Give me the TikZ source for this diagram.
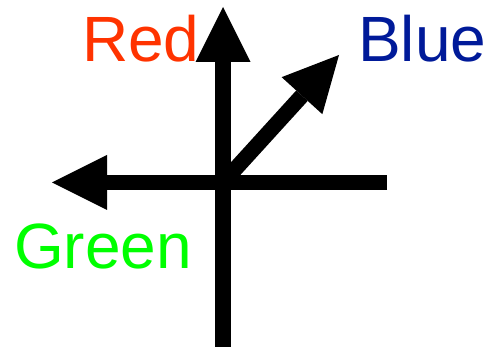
\documentclass[tikz,border=0pt]{standalone}
\usepackage{fontspec}
\setmainfont{Liberation Sans}
\usetikzlibrary{arrows.meta}
\definecolor{redc}{RGB}{255,51,0}
\definecolor{bluec}{RGB}{0,26,153}
\definecolor{greenc}{RGB}{0,255,0}
\tikzset{
  axis/.style={line width=15.5pt, black},
  arr/.style={axis, -{Triangle[length=55pt,width=55pt,line width=0pt]}},
  lbl/.style={inner sep=0pt, anchor=base west, font=\fontsize{64}{64}\selectfont}
}
\begin{document}
\begin{tikzpicture}[x=1pt,y=1pt]
\useasboundingbox (0,0) rectangle (489,347);
\coordinate (O) at (223,164.5);
\coordinate (top) at (223,340);
\coordinate (bot) at (223,0);
\coordinate (left) at (52,164.5);
\coordinate (right) at (387,164.5);
\coordinate (diag) at (339,292);
\draw[axis] (bot) -- (O);
\draw[arr] (O) -- (top);
\draw[axis] (right) -- (O);
\draw[arr] (O) -- (left);
\draw[arr] (O) -- (diag);
\node[lbl, text=redc] (red) at (82,285.3) {Red};
\node[lbl, text=bluec] (blue) at (358,285.3) {Blue};
\node[lbl, text=greenc] (green) at (14,78) {Green};
\end{tikzpicture}
\end{document}
